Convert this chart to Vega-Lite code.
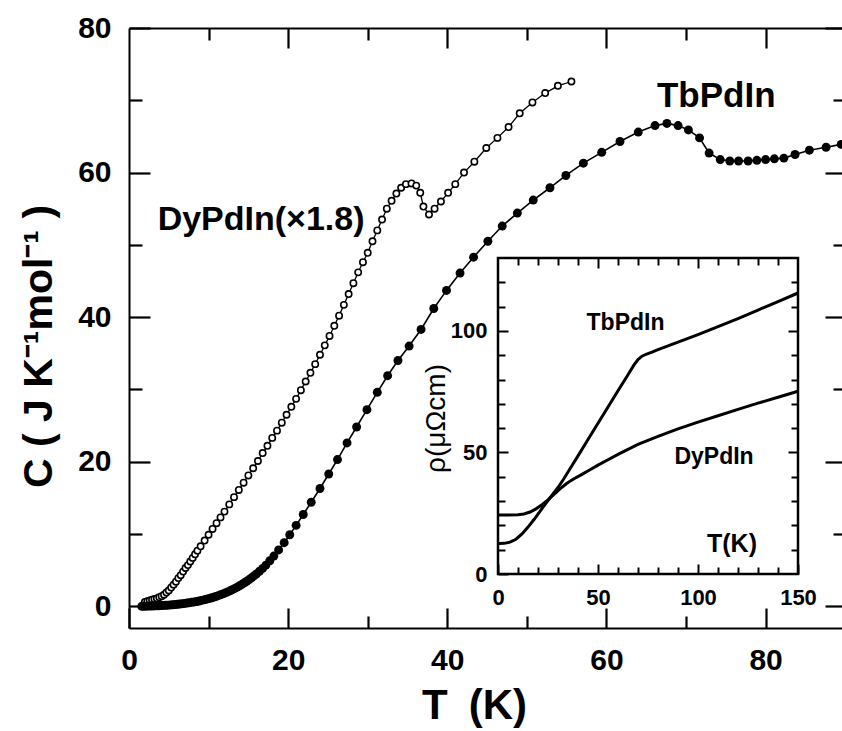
{
  "$schema": "https://vega.github.io/schema/vega-lite/v6.json",
  "width": 713,
  "height": 600,
  "autosize": {"type": "none"},
  "padding": {"left": 129, "top": 28, "right": 0, "bottom": 103},
  "background": "white",
  "config": {
    "view": {"stroke": null},
    "axis": {"grid": false, "domainColor": "black", "tickColor": "black", "labelColor": "black", "titleColor": "black", "zindex": 2, "labelFlush": false, "labelOverlap": false, "labelBound": false}
  },
  "datasets": {
    "dy_c": [
      {"T":2.0,"C":0.6},{"T":2.3,"C":0.7},{"T":2.6,"C":0.8},{"T":2.9,"C":0.9},{"T":3.2,"C":1.0},{"T":3.5,"C":1.1},{"T":3.8,"C":1.25},{"T":4.1,"C":1.4},{"T":4.4,"C":1.6},{"T":4.7,"C":1.9},{"T":5.0,"C":2.2},{"T":5.3,"C":2.6},{"T":5.6,"C":3.0},{"T":5.9,"C":3.4},{"T":6.2,"C":3.9},{"T":6.5,"C":4.3},{"T":6.8,"C":4.8},{"T":7.1,"C":5.3},{"T":7.4,"C":5.7},{"T":7.7,"C":6.2},{"T":8.0,"C":6.7},{"T":8.3,"C":7.2},{"T":8.6,"C":7.7},{"T":9.0,"C":8.3},{"T":9.5,"C":9.1},{"T":10.0,"C":9.9},{"T":10.5,"C":10.7},{"T":11.0,"C":11.5},{"T":11.5,"C":12.3},{"T":12.0,"C":13.1},{"T":12.6,"C":14.1},{"T":13.2,"C":15.1},{"T":13.8,"C":16.1},{"T":14.4,"C":17.1},{"T":15.0,"C":18.1},{"T":15.6,"C":19.1},{"T":16.2,"C":20.1},{"T":16.8,"C":21.2},{"T":17.4,"C":22.2},{"T":18.0,"C":23.3},{"T":18.6,"C":24.3},{"T":19.2,"C":25.4},{"T":19.8,"C":26.5},{"T":20.4,"C":27.6},{"T":21.0,"C":28.7},{"T":21.6,"C":29.9},{"T":22.2,"C":31.1},{"T":22.8,"C":32.3},{"T":23.4,"C":33.5},{"T":24.0,"C":34.8},{"T":24.6,"C":36.1},{"T":25.2,"C":37.4},{"T":25.8,"C":38.8},{"T":26.4,"C":40.2},{"T":27.0,"C":41.7},{"T":27.6,"C":43.2},{"T":28.2,"C":44.7},{"T":28.8,"C":46.2},{"T":29.4,"C":47.6},{"T":30.0,"C":48.9},{"T":30.6,"C":50.5},{"T":31.2,"C":52.0},{"T":31.8,"C":53.5},{"T":32.4,"C":55.0},{"T":33.0,"C":56.1},{"T":33.6,"C":57.1},{"T":34.2,"C":57.9},{"T":34.8,"C":58.4},{"T":35.5,"C":58.5},{"T":36.1,"C":58.2},{"T":36.6,"C":57.2},{"T":37.0,"C":55.3},{"T":37.7,"C":54.2},{"T":38.4,"C":55.0},{"T":39.2,"C":56.0},{"T":40.1,"C":57.2},{"T":41.0,"C":58.4},{"T":42.1,"C":60.0},{"T":43.4,"C":61.5},{"T":44.9,"C":63.4},{"T":46.3,"C":64.8},{"T":47.7,"C":66.3},{"T":49.1,"C":68.2},{"T":50.7,"C":69.7},{"T":52.3,"C":71.0},{"T":53.9,"C":72.0},{"T":55.6,"C":72.6}
    ],
    "tb_c": [
      {"T":1.6,"C":0.0},{"T":1.9,"C":0.0},{"T":2.2,"C":0.02},{"T":2.5,"C":0.03},{"T":2.8,"C":0.04},{"T":3.1,"C":0.05},{"T":3.4,"C":0.06},{"T":3.7,"C":0.08},{"T":4.0,"C":0.1},{"T":4.3,"C":0.12},{"T":4.6,"C":0.14},{"T":4.9,"C":0.16},{"T":5.2,"C":0.19},{"T":5.5,"C":0.22},{"T":5.8,"C":0.25},{"T":6.1,"C":0.28},{"T":6.4,"C":0.32},{"T":6.7,"C":0.36},{"T":7.0,"C":0.4},{"T":7.3,"C":0.45},{"T":7.6,"C":0.5},{"T":7.9,"C":0.55},{"T":8.2,"C":0.61},{"T":8.5,"C":0.67},{"T":8.8,"C":0.74},{"T":9.1,"C":0.81},{"T":9.4,"C":0.89},{"T":9.7,"C":0.97},{"T":10.0,"C":1.06},{"T":10.3,"C":1.15},{"T":10.6,"C":1.25},{"T":10.9,"C":1.36},{"T":11.2,"C":1.47},{"T":11.5,"C":1.59},{"T":11.8,"C":1.72},{"T":12.1,"C":1.85},{"T":12.4,"C":1.99},{"T":12.7,"C":2.14},{"T":13.0,"C":2.3},{"T":13.3,"C":2.47},{"T":13.6,"C":2.65},{"T":13.9,"C":2.84},{"T":14.2,"C":3.04},{"T":14.5,"C":3.25},{"T":14.8,"C":3.47},{"T":15.1,"C":3.7},{"T":15.4,"C":3.94},{"T":15.7,"C":4.2},{"T":16.0,"C":4.47},{"T":16.4,"C":4.85},{"T":16.8,"C":5.25},{"T":17.2,"C":5.7},{"T":17.7,"C":6.3},{"T":18.2,"C":6.95},{"T":18.8,"C":7.8},{"T":19.5,"C":8.8},{"T":20.2,"C":9.9},{"T":21.0,"C":11.2},{"T":21.9,"C":12.7},{"T":22.9,"C":14.4},{"T":24.0,"C":16.3},{"T":25.1,"C":18.3},{"T":26.2,"C":20.3},{"T":27.4,"C":22.6},{"T":28.6,"C":24.8},{"T":29.9,"C":27.2},{"T":31.2,"C":29.6},{"T":32.5,"C":31.9},{"T":33.8,"C":34.0},{"T":35.2,"C":36.0},{"T":36.7,"C":38.3},{"T":38.3,"C":41.2},{"T":39.9,"C":43.7},{"T":41.6,"C":46.1},{"T":43.3,"C":48.3},{"T":45.1,"C":50.5},{"T":46.9,"C":52.6},{"T":48.8,"C":54.4},{"T":50.8,"C":56.2},{"T":52.9,"C":57.9},{"T":54.9,"C":59.6},{"T":57.1,"C":61.3},{"T":59.4,"C":62.8},{"T":61.7,"C":64.3},{"T":64.0,"C":65.6},{"T":66.1,"C":66.5},{"T":67.6,"C":66.8},{"T":69.0,"C":66.5},{"T":70.3,"C":65.9},{"T":71.7,"C":64.8},{"T":72.9,"C":62.7},{"T":74.3,"C":61.8},{"T":75.5,"C":61.6},{"T":76.6,"C":61.6},{"T":77.8,"C":61.6},{"T":78.9,"C":61.7},{"T":80.0,"C":61.8},{"T":81.1,"C":61.9},{"T":82.3,"C":62.0},{"T":83.7,"C":62.5},{"T":85.5,"C":63.1},{"T":87.6,"C":63.5},{"T":89.5,"C":63.9}
    ],
    "tb_rho": [
      {"T":0.5,"rho":12.5},{"T":3,"rho":12.6},{"T":6,"rho":13.1},{"T":9,"rho":14.3},{"T":12,"rho":16.5},{"T":15,"rho":19.3},{"T":18,"rho":22.4},{"T":21,"rho":25.8},{"T":24,"rho":29.2},{"T":27,"rho":32.4},{"T":30,"rho":35.6},{"T":33,"rho":39.3},{"T":36,"rho":43.3},{"T":40,"rho":48.6},{"T":45,"rho":55.3},{"T":50,"rho":62.0},{"T":55,"rho":68.7},{"T":60,"rho":75.4},{"T":65,"rho":82.0},{"T":68,"rho":86.0},{"T":70,"rho":88.2},{"T":72,"rho":89.6},{"T":74,"rho":90.4},{"T":77,"rho":91.3},{"T":80,"rho":92.3},{"T":90,"rho":95.4},{"T":100,"rho":98.5},{"T":110,"rho":101.8},{"T":120,"rho":105.1},{"T":130,"rho":108.6},{"T":140,"rho":112.1},{"T":150,"rho":115.6}
    ],
    "dy_rho": [
      {"T":0.5,"rho":24.3},{"T":5,"rho":24.3},{"T":10,"rho":24.4},{"T":13,"rho":24.7},{"T":16,"rho":25.5},{"T":19,"rho":26.8},{"T":22,"rho":28.5},{"T":25,"rho":30.5},{"T":28,"rho":32.7},{"T":31,"rho":35.0},{"T":34,"rho":37.0},{"T":36,"rho":38.2},{"T":38,"rho":39.2},{"T":42,"rho":41.0},{"T":46,"rho":42.9},{"T":50,"rho":44.8},{"T":55,"rho":47.0},{"T":60,"rho":49.2},{"T":65,"rho":51.3},{"T":70,"rho":53.3},{"T":75,"rho":55.0},{"T":80,"rho":56.6},{"T":90,"rho":59.7},{"T":100,"rho":62.5},{"T":110,"rho":65.1},{"T":120,"rho":67.7},{"T":130,"rho":70.3},{"T":140,"rho":72.7},{"T":150,"rho":75.2}
    ]
  },
  "layer": [
    {
      "layer": [
        {
          "data": {"name": "dy_c"},
          "mark": {"type": "line", "color": "black", "strokeWidth": 1.3},
          "encoding": {
            "x": {"field": "T", "type": "quantitative", "scale": {"domain": [0, 89.6], "nice": false, "zero": false},
              "axis": {"orient": "bottom", "offset": -20, "domain": false, "values": [0,20,40,60,80], "tickSize": 20, "tickWidth": 2.2,
                "labelFont": "Liberation Sans", "labelFontWeight": "bold", "labelFontSize": 30, "labelPadding": 17, "labelBaseline": "top",
                "title": "T\u2002(K)", "titleFont": "Liberation Sans", "titleFontWeight": "bold", "titleFontSize": 42,
                "titleX": 345, "titleY": 110, "titleAlign": "center", "titleBaseline": "alphabetic"}},
            "y": {"field": "C", "type": "quantitative", "scale": {"domain": [-3, 80], "nice": false, "zero": false},
              "axis": {"orient": "left", "values": [0,20,40,60,80], "tickSize": -21, "tickWidth": 2.2, "domainWidth": 2,
                "labelFont": "Liberation Sans", "labelFontWeight": "bold", "labelFontSize": 30, "labelPadding": 39,
                "title": "C\u00a0( J K⁻¹mol⁻¹ )", "titleFont": "Liberation Sans", "titleFontWeight": "bold", "titleFontSize": 41,
                "titleAngle": -90, "titleX": -90, "titleY": 318, "titleAlign": "center", "titleBaseline": "middle"}}
          }
        },
        {
          "data": {"name": "dy_c"},
          "mark": {"type": "point", "shape": "circle", "filled": true, "fill": "white", "stroke": "black", "strokeWidth": 1.6, "size": 40, "opacity": 1},
          "encoding": {
            "x": {"field": "T", "type": "quantitative", "scale": {"domain": [0, 89.6], "nice": false, "zero": false},
              "axis": {"orient": "top", "offset": -20, "domain": false, "values": [20,40,60,80], "labels": false, "title": null, "tickSize": 20, "tickWidth": 2.2}},
            "y": {"field": "C", "type": "quantitative", "scale": {"domain": [-3, 80], "nice": false, "zero": false},
              "axis": {"orient": "right", "values": [0,20,40,60,80], "labels": false, "title": null, "domain": false, "tickSize": -17, "tickWidth": 2.2}}
          }
        },
        {
          "data": {"name": "tb_c"},
          "mark": {"type": "line", "color": "black", "strokeWidth": 1.6},
          "encoding": {
            "x": {"field": "T", "type": "quantitative", "scale": {"domain": [0, 89.6], "nice": false, "zero": false},
              "axis": {"orient": "bottom", "offset": -12, "values": [10,30,50,70], "labels": false, "title": null, "domain": false, "tickSize": 12, "tickWidth": 2.2}},
            "y": {"field": "C", "type": "quantitative", "scale": {"domain": [-3, 80], "nice": false, "zero": false},
              "axis": {"orient": "left", "values": [10,30,50,70], "labels": false, "title": null, "domain": false, "tickSize": -13, "tickWidth": 2.2}}
          }
        },
        {
          "data": {"name": "tb_c"},
          "mark": {"type": "point", "shape": "circle", "filled": true, "color": "black", "size": 80, "opacity": 1},
          "encoding": {
            "x": {"field": "T", "type": "quantitative", "scale": {"domain": [0, 89.6], "nice": false, "zero": false},
              "axis": {"orient": "top", "offset": -12, "values": [10,30,50,70], "labels": false, "title": null, "domain": false, "tickSize": 12, "tickWidth": 2.2}},
            "y": {"field": "C", "type": "quantitative", "scale": {"domain": [-3, 80], "nice": false, "zero": false},
              "axis": {"orient": "right", "values": [10,30,50,70], "labels": false, "title": null, "domain": false, "tickSize": -9, "tickWidth": 2.2}}
          }
        },
        {
          "data": {"values": [{}]},
          "mark": {"type": "text", "text": "DyPdIn(×1.8)", "font": "Liberation Sans", "fontWeight": "bold", "fontSize": 34, "align": "center", "baseline": "alphabetic", "color": "black"},
          "encoding": {
            "x": {"datum": 16.6, "type": "quantitative", "scale": {"domain": [0, 89.6], "nice": false, "zero": false},
              "axis": {"orient": "bottom", "ticks": false, "labels": false, "title": null, "domain": true, "domainWidth": 2}},
            "y": {"datum": 52.06, "type": "quantitative", "scale": {"domain": [-3, 80], "nice": false, "zero": false}, "axis": null}
          }
        },
        {
          "data": {"values": [{}]},
          "mark": {"type": "text", "text": "TbPdIn", "font": "Liberation Sans", "fontWeight": "bold", "fontSize": 35, "align": "center", "baseline": "alphabetic", "color": "black"},
          "encoding": {
            "x": {"datum": 73.8, "type": "quantitative", "scale": {"domain": [0, 89.6], "nice": false, "zero": false},
              "axis": {"orient": "top", "ticks": false, "labels": false, "title": null, "domain": true, "domainWidth": 2}},
            "y": {"datum": 69.07, "type": "quantitative", "scale": {"domain": [-3, 80], "nice": false, "zero": false}, "axis": null}
          }
        }
      ],
      "resolve": {"axis": {"x": "independent", "y": "independent"}}
    },
    {
      "layer": [
        {
          "data": {"values": [{}]},
          "mark": {"type": "rect", "fill": "white", "fillOpacity": 0, "stroke": "black", "strokeWidth": 2.5},
          "encoding": {
            "x": {"datum": 0, "type": "quantitative", "scale": {"domain": [-184.5, 172], "nice": false, "zero": false},
              "axis": {"orient": "bottom", "offset": -64, "domain": false, "values": [0,50,100,150], "tickSize": 10, "tickWidth": 2,
                "labelFont": "Liberation Sans", "labelFontWeight": "bold", "labelFontSize": 22, "labelPadding": 13, "labelBaseline": "top", "title": null}},
            "x2": {"datum": 150},
            "y": {"datum": 0, "type": "quantitative", "scale": {"domain": [-22.215, 224.62], "nice": false, "zero": false},
              "axis": {"orient": "left", "offset": -379, "domain": false, "values": [0,50,100], "tickSize": 10, "tickWidth": 2,
                "labelFont": "Liberation Sans", "labelFontWeight": "bold", "labelFontSize": 22, "labelPadding": 11,
                "title": "ρ(μΩcm)", "titleFont": "Liberation Sans", "titleFontWeight": "normal", "titleFontSize": 28,
                "titleAngle": -90, "titleX": -72, "titleY": 390, "titleAlign": "center", "titleBaseline": "middle"}},
            "y2": {"datum": 130}
          }
        },
        {
          "data": {"name": "tb_rho"},
          "mark": {"type": "line", "color": "black", "strokeWidth": 3},
          "encoding": {
            "x": {"field": "T", "type": "quantitative", "scale": {"domain": [-184.5, 172], "nice": false, "zero": false},
              "axis": {"orient": "top", "offset": -240, "domain": false, "labels": false, "title": null, "values": [50,100], "tickSize": 10, "tickWidth": 2}},
            "y": {"field": "rho", "type": "quantitative", "scale": {"domain": [-22.215, 224.62], "nice": false, "zero": false},
              "axis": {"orient": "right", "offset": -54, "domain": false, "labels": false, "title": null, "values": [50,100], "tickSize": 10, "tickWidth": 2}}
          }
        },
        {
          "data": {"name": "dy_rho"},
          "mark": {"type": "line", "color": "black", "strokeWidth": 3},
          "encoding": {
            "x": {"field": "T", "type": "quantitative", "scale": {"domain": [-184.5, 172], "nice": false, "zero": false},
              "axis": {"orient": "bottom", "offset": -61, "domain": false, "labels": false, "title": null, "values": [10,20,30,40,60,70,80,90,110,120,130,140], "tickSize": 7, "tickWidth": 2}},
            "y": {"field": "rho", "type": "quantitative", "scale": {"domain": [-22.215, 224.62], "nice": false, "zero": false},
              "axis": {"orient": "left", "offset": -376, "domain": false, "labels": false, "title": null, "values": [10,20,30,40,60,70,80,90,110,120], "tickSize": 7, "tickWidth": 2}}
          }
        },
        {
          "data": {"values": [{}]},
          "mark": {"type": "text", "text": "TbPdIn", "font": "Liberation Sans", "fontWeight": "bold", "fontSize": 23, "align": "center", "baseline": "alphabetic", "color": "black"},
          "encoding": {
            "x": {"datum": 63.75, "type": "quantitative", "scale": {"domain": [-184.5, 172], "nice": false, "zero": false},
              "axis": {"orient": "top", "offset": -237, "domain": false, "labels": false, "title": null, "values": [10,20,30,40,60,70,80,90,110,120,130,140], "tickSize": 7, "tickWidth": 2}},
            "y": {"datum": 100.4, "type": "quantitative", "scale": {"domain": [-22.215, 224.62], "nice": false, "zero": false},
              "axis": {"orient": "right", "offset": -51, "domain": false, "labels": false, "title": null, "values": [10,20,30,40,60,70,80,90,110,120], "tickSize": 7, "tickWidth": 2}}
          }
        },
        {
          "data": {"values": [{}]},
          "mark": {"type": "text", "text": "DyPdIn", "font": "Liberation Sans", "fontWeight": "bold", "fontSize": 23, "align": "center", "baseline": "alphabetic", "color": "black"},
          "encoding": {
            "x": {"datum": 108, "type": "quantitative", "scale": {"domain": [-184.5, 172], "nice": false, "zero": false}, "axis": null},
            "y": {"datum": 45.25, "type": "quantitative", "scale": {"domain": [-22.215, 224.62], "nice": false, "zero": false}, "axis": null}
          }
        },
        {
          "data": {"values": [{}]},
          "mark": {"type": "text", "text": "T(K)", "font": "Liberation Sans", "fontWeight": "bold", "fontSize": 25, "align": "center", "baseline": "alphabetic", "color": "black"},
          "encoding": {
            "x": {"datum": 117, "type": "quantitative", "scale": {"domain": [-184.5, 172], "nice": false, "zero": false}, "axis": null},
            "y": {"datum": 9.05, "type": "quantitative", "scale": {"domain": [-22.215, 224.62], "nice": false, "zero": false}, "axis": null}
          }
        }
      ],
      "resolve": {"axis": {"x": "independent", "y": "independent"}}
    }
  ],
  "resolve": {"scale": {"x": "independent", "y": "independent"}}
}
